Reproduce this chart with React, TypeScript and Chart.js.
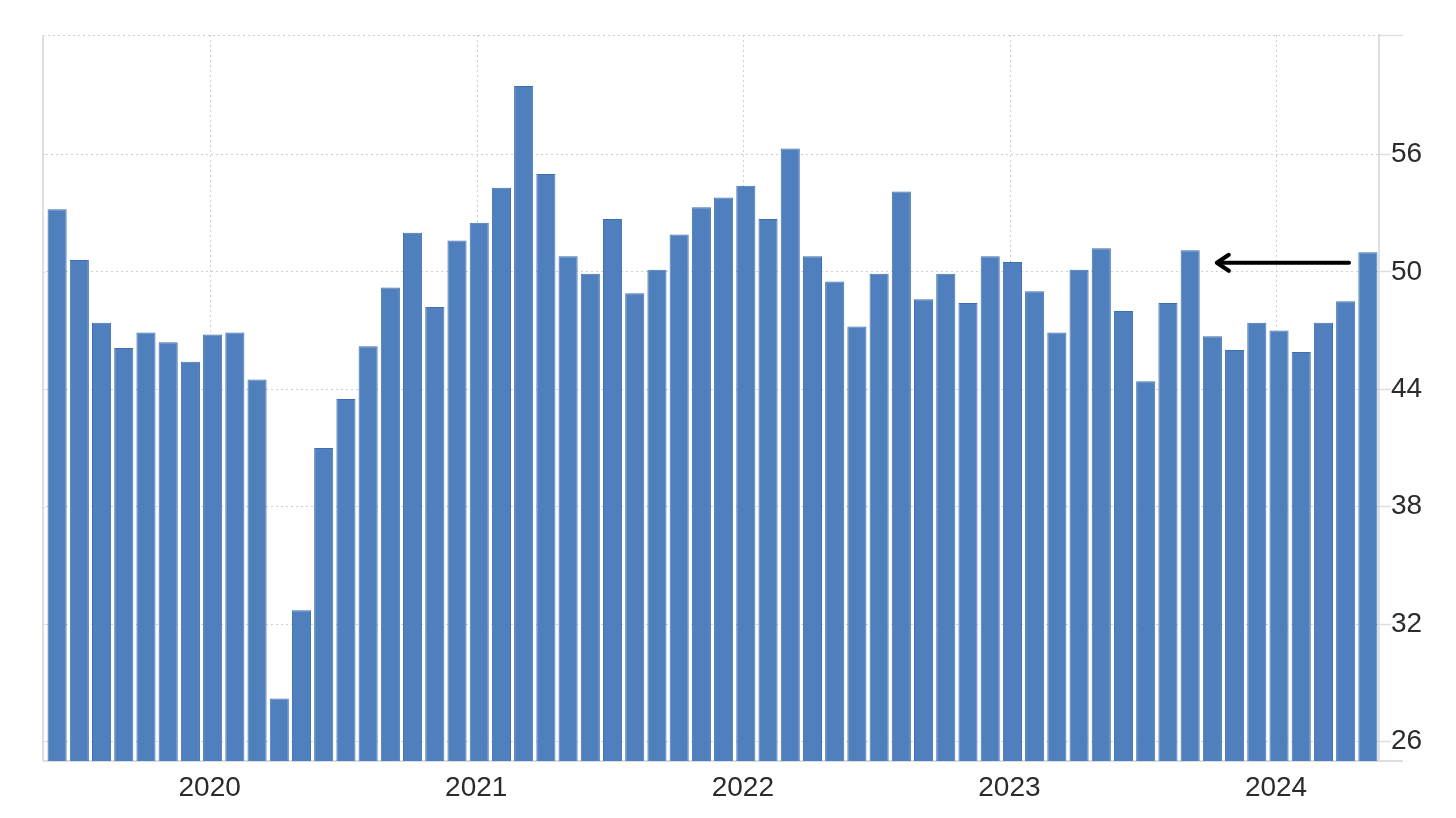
import React, { useEffect, useRef } from 'react';
import { Chart, registerables } from 'chart.js';

Chart.register(...registerables);

const months = [
  'Jun 2019', 'Jul 2019', 'Aug 2019', 'Sep 2019', 'Oct 2019', 'Nov 2019', 'Dec 2019',
  'Jan 2020', 'Feb 2020', 'Mar 2020', 'Apr 2020', 'May 2020', 'Jun 2020', 'Jul 2020', 'Aug 2020', 'Sep 2020', 'Oct 2020', 'Nov 2020', 'Dec 2020',
  'Jan 2021', 'Feb 2021', 'Mar 2021', 'Apr 2021', 'May 2021', 'Jun 2021', 'Jul 2021', 'Aug 2021', 'Sep 2021', 'Oct 2021', 'Nov 2021', 'Dec 2021',
  'Jan 2022', 'Feb 2022', 'Mar 2022', 'Apr 2022', 'May 2022', 'Jun 2022', 'Jul 2022', 'Aug 2022', 'Sep 2022', 'Oct 2022', 'Nov 2022', 'Dec 2022',
  'Jan 2023', 'Feb 2023', 'Mar 2023', 'Apr 2023', 'May 2023', 'Jun 2023', 'Jul 2023', 'Aug 2023', 'Sep 2023', 'Oct 2023', 'Nov 2023', 'Dec 2023',
  'Jan 2024', 'Feb 2024', 'Mar 2024', 'Apr 2024', 'May 2024',
];

const values = [
  53.2, 50.6, 47.4, 46.1, 46.9, 46.4, 45.4,
  46.8, 46.9, 44.5, 28.2, 32.7, 41.0, 43.5, 46.2, 49.2, 52.0, 48.2, 51.6,
  52.5, 54.3, 59.5, 55.0, 50.8, 49.9, 52.7, 48.9, 50.1, 51.9, 53.3, 53.8,
  54.4, 52.7, 56.3, 50.8, 49.5, 47.2, 49.9, 54.1, 48.6, 49.9, 48.4, 50.8,
  50.5, 49.0, 46.9, 50.1, 51.2, 48.0, 44.4, 48.4, 51.1, 46.7, 46.0, 47.4,
  47.0, 45.9, 47.4, 48.5, 51.0,
];

const yearTickMonths = ['Jan 2020', 'Jan 2021', 'Jan 2022', 'Jan 2023', 'Jan 2024'];
const yearTickLabels = ['2020', '2021', '2022', '2023', '2024'];
const yTicks = [26, 32, 38, 44, 50, 56];
const yMin = 25;
const yMax = 62.1;
// year gridlines sit at the start of January, slightly before the bar centre
const yearLineShift = -0.12;

// annotation arrow (category index positions, value)
const arrowFromIndex = 58.15;
const arrowToIndex = 52.2;
const arrowValue = 50.46;

const FONT = "'Liberation Sans', Arial, sans-serif";
const FRAME_LEFT = 43;

const framePlugin = {
  id: 'frame',
  beforeDatasetsDraw(chart: any) {
    const { ctx, chartArea, scales } = chart;
    const { right, top, bottom } = chartArea;
    const left = FRAME_LEFT;
    ctx.save();
    // dotted year gridlines
    ctx.strokeStyle = '#cfcfcf';
    ctx.lineWidth = 1;
    ctx.setLineDash([2, 3]);
    yearTickMonths.forEach((m) => {
      const idx = months.indexOf(m);
      const x = Math.round(scales.x.getPixelForValue(idx + yearLineShift)) + 0.5;
      ctx.beginPath();
      ctx.moveTo(x, top);
      ctx.lineTo(x, bottom);
      ctx.stroke();
    });
    // horizontal dotted gridlines start from frame left
    yTicks.forEach((v) => {
      const y = Math.round(scales.y.getPixelForValue(v)) + 0.5;
      ctx.beginPath();
      ctx.moveTo(left, y);
      ctx.lineTo(chartArea.left, y);
      ctx.stroke();
    });
    // top dotted frame line
    ctx.beginPath();
    ctx.moveTo(left, top + 0.5);
    ctx.lineTo(right, top + 0.5);
    ctx.stroke();
    ctx.setLineDash([]);
    // left border
    ctx.strokeStyle = '#dedede';
    ctx.lineWidth = 2;
    ctx.beginPath();
    ctx.moveTo(left, top);
    ctx.lineTo(left, bottom);
    ctx.stroke();
    // bottom line from frame left, and extensions to the right
    ctx.beginPath();
    ctx.moveTo(left, bottom);
    ctx.lineTo(right + 24, bottom);
    ctx.stroke();
    ctx.lineWidth = 1.5;
    ctx.beginPath();
    ctx.moveTo(right, top + 0.5);
    ctx.lineTo(right + 24, top + 0.5);
    ctx.stroke();
    ctx.restore();
  },
};

const arrowPlugin = {
  id: 'arrow',
  afterDatasetsDraw(chart: any) {
    const { ctx, scales } = chart;
    const x1 = scales.x.getPixelForValue(arrowFromIndex);
    const x2 = scales.x.getPixelForValue(arrowToIndex);
    const y = scales.y.getPixelForValue(arrowValue);
    ctx.save();
    ctx.strokeStyle = '#000';
    ctx.lineWidth = 4;
    ctx.lineCap = 'round';
    ctx.lineJoin = 'round';
    ctx.beginPath();
    ctx.moveTo(x1, y);
    ctx.lineTo(x2 + 2, y);
    ctx.stroke();
    ctx.beginPath();
    ctx.moveTo(x2 + 12, y - 8);
    ctx.lineTo(x2, y);
    ctx.lineTo(x2 + 12, y + 8);
    ctx.stroke();
    ctx.restore();
  },
};

export default function App() {
  const canvasRef = useRef<HTMLCanvasElement | null>(null);

  useEffect(() => {
    if (!canvasRef.current) return;
    const chart = new Chart(canvasRef.current, {
      type: 'bar',
      data: {
        labels: months,
        datasets: [
          {
            data: values,
            backgroundColor: '#4f80bd',
            borderColor: '#3e6fb2',
            borderWidth: 1,
            barPercentage: 0.86,
            categoryPercentage: 1,
          },
        ],
      },
      options: {
        animation: false,
        responsive: true,
        maintainAspectRatio: false,
        layout: { padding: { left: 46, top: 35, right: 0, bottom: 0 } },
        plugins: {
          legend: { display: false },
          tooltip: { enabled: false },
        },
        scales: {
          x: {
            type: 'category',
            offset: true,
            afterBuildTicks: (scale: any) => {
              scale.ticks = scale.ticks.filter((t: any) => yearTickMonths.includes(months[t.value]));
            },
            afterFit: (scale: any) => {
              scale.height = 57;
            },
            grid: {
              display: false,
              drawTicks: false,
            },
            border: { display: false },
            ticks: {
              autoSkip: false,
              maxRotation: 0,
              padding: 10,
              labelOffset: -3,
              color: '#2b2b2b',
              font: { family: FONT, size: 28 },
              callback: (value: any) => {
                const i = yearTickMonths.indexOf(months[value]);
                return i >= 0 ? yearTickLabels[i] : '';
              },
            },
          },
          y: {
            position: 'right',
            min: yMin,
            max: yMax,
            afterBuildTicks: (scale: any) => {
              scale.ticks = yTicks.map((v) => ({ value: v }));
            },
            afterFit: (scale: any) => {
              scale.width = 77;
            },
            grid: {
              color: '#cfcfcf',
              lineWidth: 1,
              drawTicks: true,
              tickLength: 12,
              tickColor: '#dedede',
              tickWidth: 1.5,
              tickBorderDash: [],
            },
            border: { display: true, color: '#dedede', width: 2, dash: [2, 3] },
            ticks: {
              padding: 0,
              color: '#2b2b2b',
              font: { family: FONT, size: 28 },
              callback: (value: any) => String(value),
            },
          },
        },
      },
      plugins: [framePlugin, arrowPlugin],
    } as any);
    return () => chart.destroy();
  }, []);

  return (
    <div style={{ position: 'absolute', left: 0, top: 0, width: 1456, height: 818, background: '#fff' }}>
      <canvas ref={canvasRef} />
    </div>
  );
}
